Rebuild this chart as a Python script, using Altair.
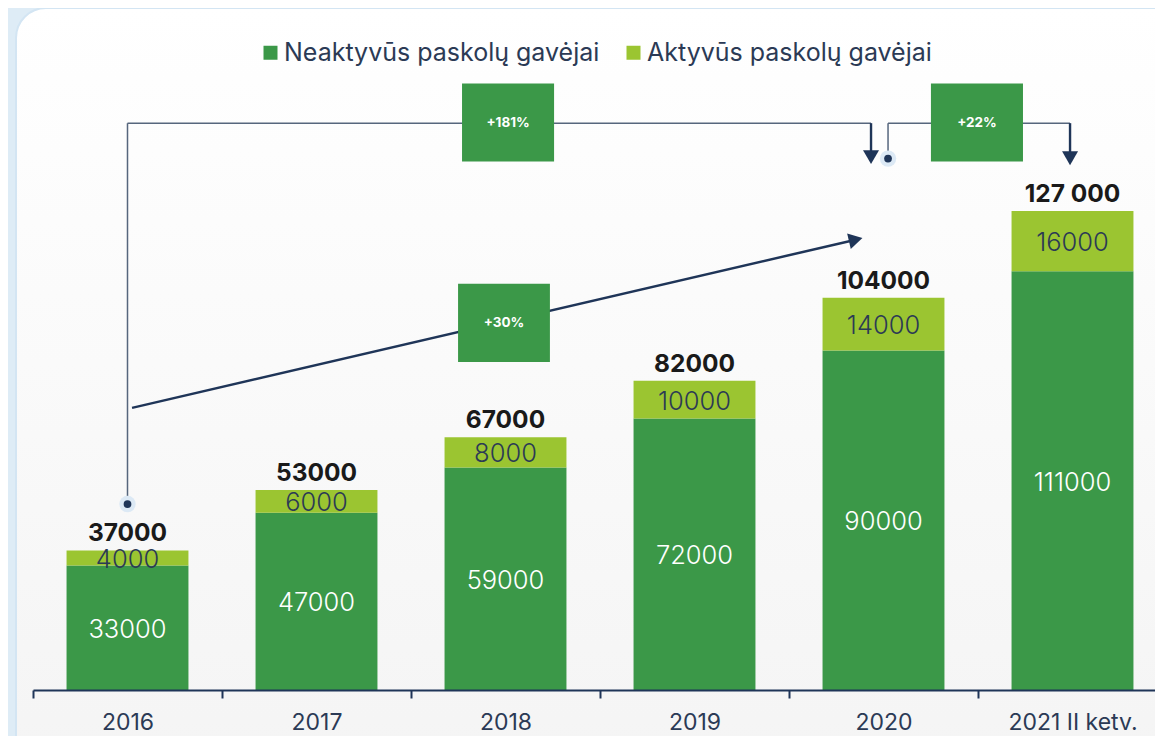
import altair as alt
import pandas as pd

# ---------------- data ----------------
years = ["2016", "2017", "2018", "2019", "2020", "2021 II ketv."]
neaktyvus = [33000, 47000, 59000, 72000, 90000, 111000]
aktyvus = [4000, 6000, 8000, 10000, 14000, 16000]
total_labels = ["37000", "53000", "67000", "82000", "104000", "127 000"]
series_names = ["Neaktyvūs paskolų gavėjai", "Aktyvūs paskolų gavėjai"]
series_colors = ["#3b9848", "#9bc531"]
inner_label_colors = ["#ffffff", "#2b3a55"]

growth_labels = ["+181%", "+30%", "+22%"]

# ---------------- tables ----------------
rows = []
for i, yr in enumerate(years):
    n, a = neaktyvus[i], aktyvus[i]
    rows.append(dict(year=yr, series=series_names[0], start=0, end=n, mid=n / 2,
                     label=str(n), lc=inner_label_colors[0]))
    rows.append(dict(year=yr, series=series_names[1], start=n, end=n + a, mid=n + a / 2,
                     label=str(a), lc=inner_label_colors[1]))
stack_df = pd.DataFrame(rows)
tot_df = pd.DataFrame(dict(year=years,
                           total=[n + a for n, a in zip(neaktyvus, aktyvus)],
                           label=total_labels))

# annotation geometry (x in category units: category i spans [i, i+1]; y in data units)
seg_df = pd.DataFrame([
    dict(u=0.5, u2=0.5, v=49300, v2=150300, kind="thin"),
    dict(u=0.5, u2=4.434, v=150300, v2=150300, kind="thin"),
    dict(u=4.434, u2=4.434, v=150300, v2=141300, kind="thick"),
    dict(u=4.524, u2=4.524, v=140900, v2=150300, kind="thin"),
    dict(u=4.524, u2=5.487, v=150300, v2=150300, kind="thin"),
    dict(u=5.487, u2=5.487, v=150300, v2=141000, kind="thick"),
])
slant_df = pd.DataFrame([dict(u=0.524, u2=4.353, v=74800, v2=119400)])
head_down_df = pd.DataFrame([dict(u=4.434, v=141300), dict(u=5.487, v=141000)])
head_right_df = pd.DataFrame([dict(u=4.353, v=119400)])
dot_df = pd.DataFrame([dict(u=0.5, v=49300), dict(u=4.524, v=140900)])
box_df = pd.DataFrame([
    dict(u=2.270, u2=2.757, v=140100, v2=160800, label=growth_labels[0]),
    dict(u=2.249, u2=2.735, v=87000, v2=107700, label=growth_labels[1]),
    dict(u=4.751, u2=5.238, v=140100, v2=160800, label=growth_labels[2]),
])
box_df["uc"] = (box_df.u + box_df.u2) / 2
box_df["vc"] = (box_df.v + box_df.v2) / 2

# ---------------- scales ----------------
PLOT_W, PLOT_H = 1122, 660
XRANGE = [0, 1134]
YMAX = 175000
yscale = alt.Scale(domain=[0, YMAX], nice=False, zero=True)
xband = alt.Scale(range=XRANGE, paddingInner=0, paddingOuter=0)
xq = alt.Scale(domain=[0, 6], range=XRANGE, nice=False, zero=False)
NAVY = "#1f3558"
TXT = "#2b3a55"
FONT = "Inter"

# ---------------- background card ----------------
card = alt.Chart(pd.DataFrame({"k": [0]})).mark_rect(
    cornerRadius=30,
    fill=alt.Gradient(gradient="linear",
                      stops=[alt.GradientStop(color="#ffffff", offset=0),
                             alt.GradientStop(color="#f4f4f4", offset=1)],
                      x1=0, x2=0, y1=0, y2=1),
    stroke="#d3e5f3", strokeWidth=2,
).encode(x=alt.value(-17), x2=alt.value(1220), y=alt.value(-22), y2=alt.value(760))

# ---------------- bars ----------------
xenc = alt.X("year:N", sort=years, scale=xband,
             axis=alt.Axis(title=None, labelAngle=0, labelFont=FONT, labelFontSize=23,
                           labelColor=TXT, domainColor=NAVY, domainWidth=2,
                           tickColor=NAVY, tickWidth=2, tickSize=8, tickBand="extent",
                           labelPadding=13, grid=False, zindex=1))

bars = alt.Chart(stack_df).mark_bar(width={"band": 0.645}).encode(
    x=xenc,
    y=alt.Y("start:Q", scale=yscale, axis=None),
    y2="end:Q",
    color=alt.Color("series:N", sort=series_names,
                    scale=alt.Scale(domain=series_names, range=series_colors),
                    legend=alt.Legend(title=None, orient="none", direction="horizontal",
                                      legendX=225, legendY=10, symbolType="square",
                                      symbolSize=196, symbolStrokeWidth=0,
                                      labelFont=FONT, labelFontSize=25, labelColor=TXT,
                                      labelLimit=0, labelOffset=1, columnPadding=21,
                                      padding=0, zindex=1)),
)

inner = alt.Chart(stack_df).mark_text(font=FONT, fontSize=25.5, fontWeight=300,
                                      baseline="middle", dy=2).encode(
    x=alt.X("year:N", sort=years, scale=xband),
    y=alt.Y("mid:Q", scale=yscale),
    text="label:N",
    color=alt.Color("lc:N", scale=None),
)

totals = alt.Chart(tot_df).mark_text(font=FONT, fontSize=24.5, fontWeight="bold",
                                     color="#1a1a1a", baseline="alphabetic", dy=-9).encode(
    x=alt.X("year:N", sort=years, scale=xband),
    y=alt.Y("total:Q", scale=yscale),
    text="label:N",
)

bar_group = alt.layer(bars, inner, totals)

# ---------------- annotations ----------------
segs_thin = alt.Chart(seg_df[seg_df.kind == "thin"]).mark_rule(
    color="#56667d", strokeWidth=1.5).encode(
    x=alt.X("u:Q", scale=xq, axis=None), x2="u2:Q",
    y=alt.Y("v:Q", scale=yscale), y2="v2:Q")
segs_thick = alt.Chart(seg_df[seg_df.kind == "thick"]).mark_rule(
    color=NAVY, strokeWidth=2.4).encode(
    x=alt.X("u:Q", scale=xq, axis=None), x2="u2:Q",
    y=alt.Y("v:Q", scale=yscale), y2="v2:Q")
slant = alt.Chart(slant_df).mark_rule(color=NAVY, strokeWidth=2.5).encode(
    x=alt.X("u:Q", scale=xq, axis=None), x2="u2:Q",
    y=alt.Y("v:Q", scale=yscale), y2="v2:Q")
heads_down = alt.Chart(head_down_df).mark_point(
    shape="triangle-down", filled=True, size=256, color=NAVY, opacity=1).encode(
    x=alt.X("u:Q", scale=xq, axis=None), y=alt.Y("v:Q", scale=yscale))
head_right = alt.Chart(head_right_df).mark_point(
    shape="triangle-right", filled=True, size=256, color=NAVY, opacity=1,
    angle=346.9).encode(
    x=alt.X("u:Q", scale=xq, axis=None), y=alt.Y("v:Q", scale=yscale))
halos = alt.Chart(dot_df).mark_point(
    shape="circle", filled=True, size=270, color="#dce9f5", opacity=1).encode(
    x=alt.X("u:Q", scale=xq, axis=None), y=alt.Y("v:Q", scale=yscale))
dots = alt.Chart(dot_df).mark_point(
    shape="circle", filled=True, size=60, color=NAVY, opacity=1).encode(
    x=alt.X("u:Q", scale=xq, axis=None), y=alt.Y("v:Q", scale=yscale))
boxes = alt.Chart(box_df).mark_rect(color="#3b9848").encode(
    x=alt.X("u:Q", scale=xq, axis=None), x2="u2:Q",
    y=alt.Y("v:Q", scale=yscale), y2="v2:Q")
box_text = alt.Chart(box_df).mark_text(
    font=FONT, fontSize=13.5, fontWeight="bold", color="white", baseline="middle").encode(
    x=alt.X("uc:Q", scale=xq, axis=None), y=alt.Y("vc:Q", scale=yscale), text="label:N")

annot_group = alt.layer(segs_thin, segs_thick, slant, heads_down, head_right,
                        halos, dots, boxes, box_text)

chart = alt.layer(card, bar_group, annot_group).resolve_scale(
    x="independent"
).properties(
    width=PLOT_W, height=PLOT_H,
    background="#deecf6",
    padding={"left": 25, "top": 22, "right": 0, "bottom": 46},
    autosize=alt.AutoSizeParams(type="none"),
).configure_view(stroke=None)

chart.save("out.html", embed_options={"renderer": "svg", "actions": False})
